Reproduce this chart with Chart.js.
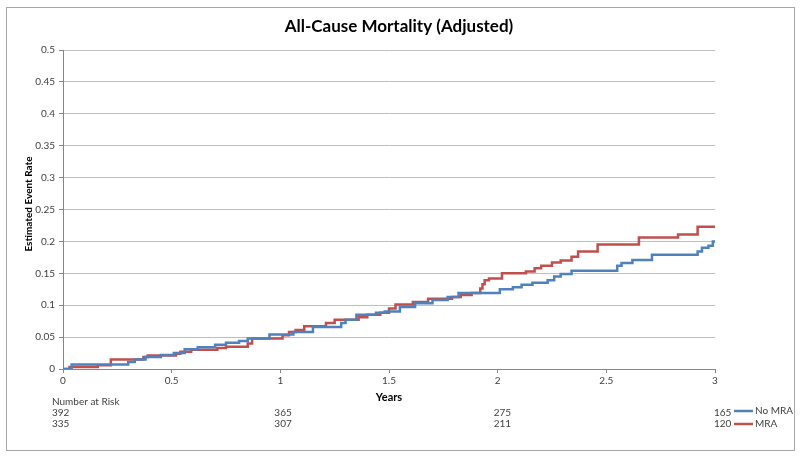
<!DOCTYPE html>
<html>
<head>
<meta charset="utf-8">
<title>All-Cause Mortality (Adjusted)</title>
<script src="https://cdn.jsdelivr.net/npm/chart.js@4"></script>
<style>
  body { margin: 0; background: #fff; }
  canvas { display: block; }
</style>
</head>
<body>
<canvas id="kmChart" width="800" height="459"></canvas>
<script>
// Dados (anos, taxa estimada)
const noMraTimes = [0, 0.04, 0.30, 0.33, 0.38, 0.45, 0.51, 0.56, 0.62, 0.70, 0.75, 0.81, 0.85, 0.95, 1.06, 1.15, 1.28, 1.30, 1.35, 1.44, 1.48, 1.55, 1.62, 1.70, 1.77, 1.82, 2.01, 2.07, 2.11, 2.16, 2.23, 2.26, 2.29, 2.34, 2.55, 2.57, 2.62, 2.71, 2.92, 2.94, 2.97, 2.99, 3.00];
const noMraRates = [0, 0.007, 0.011, 0.015, 0.019, 0.022, 0.025, 0.031, 0.034, 0.038, 0.041, 0.044, 0.048, 0.054, 0.058, 0.066, 0.072, 0.077, 0.085, 0.088, 0.090, 0.097, 0.103, 0.108, 0.113, 0.119, 0.125, 0.128, 0.132, 0.135, 0.139, 0.145, 0.149, 0.154, 0.162, 0.166, 0.171, 0.179, 0.184, 0.190, 0.193, 0.200, 0.200];

const mraTimes = [0, 0.03, 0.16, 0.22, 0.37, 0.39, 0.52, 0.54, 0.59, 0.71, 0.75, 0.85, 0.87, 1.01, 1.04, 1.07, 1.11, 1.21, 1.25, 1.36, 1.40, 1.46, 1.50, 1.53, 1.61, 1.68, 1.79, 1.83, 1.88, 1.92, 1.93, 1.94, 1.96, 2.02, 2.13, 2.17, 2.20, 2.25, 2.29, 2.34, 2.37, 2.46, 2.65, 2.83, 2.92, 3.00];
const mraRates = [0, 0.003, 0.006, 0.015, 0.019, 0.021, 0.024, 0.027, 0.030, 0.033, 0.035, 0.040, 0.048, 0.053, 0.058, 0.061, 0.067, 0.072, 0.077, 0.081, 0.085, 0.088, 0.095, 0.101, 0.105, 0.110, 0.113, 0.116, 0.119, 0.126, 0.133, 0.139, 0.142, 0.150, 0.153, 0.158, 0.162, 0.167, 0.170, 0.176, 0.184, 0.195, 0.206, 0.211, 0.223, 0.223];

// Número em risco
const riskYears = [0, 1, 2, 3];
const riskNoMra = [392, 365, 275, 165];
const riskMra = [335, 307, 211, 120];

const seriesNames = ['No MRA', 'MRA'];
const corAzul = '#4F81BD';
const corVermelha = '#C0504D';
const fonte = "Lato, 'Liberation Sans', sans-serif";

function pontos(xs, ys) {
    return xs.map((x, i) => ({ x: x, y: ys[i] }));
}

// Formata sem zeros extras (1.0 -> 1)
function fmt(v) {
    return String(Number(v.toFixed(2)));
}

// Plugin para título, moldura, tabela de risco e legenda
const extras = {
    id: 'extras',
    afterDraw(chart) {
        const ctx = chart.ctx;
        const xs = chart.scales.x;
        ctx.save();

        // moldura
        ctx.strokeStyle = '#A6A6A6';
        ctx.lineWidth = 1;
        ctx.strokeRect(6.5, 7.5, 788, 443);

        // título
        ctx.fillStyle = '#000';
        ctx.font = 'bold 17px ' + fonte;
        ctx.textAlign = 'center';
        ctx.textBaseline = 'middle';
        ctx.fillText('All-Cause Mortality (Adjusted)', 399, 27);

        // título eixo Y
        ctx.save();
        ctx.translate(29, 204);
        ctx.rotate(-Math.PI / 2);
        ctx.font = 'bold 10px ' + fonte;
        ctx.fillText('Estimated Event Rate', 0, 0);
        ctx.restore();

        // título eixo X
        ctx.font = 'bold 11px ' + fonte;
        ctx.fillText('Years', 389, 397);

        // número em risco
        ctx.font = '10px ' + fonte;
        ctx.fillStyle = '#404040';
        ctx.textAlign = 'left';
        ctx.fillText('Number at Risk', 52, 402);
        const offs = [-11, -6, -4, -1];
        riskYears.forEach((yr, i) => {
            const px = xs.getPixelForValue(yr) + offs[i];
            ctx.fillText(String(riskNoMra[i]), px, 413);
            ctx.fillText(String(riskMra[i]), px, 424);
        });

        // legenda
        const cores = [corAzul, corVermelha];
        [411, 424].forEach((ly, i) => {
            ctx.strokeStyle = cores[i];
            ctx.lineWidth = 2.5;
            ctx.beginPath();
            ctx.moveTo(734, ly);
            ctx.lineTo(753, ly);
            ctx.stroke();
            ctx.fillStyle = '#404040';
            ctx.fillText(seriesNames[i], 755, ly);
        });

        ctx.restore();
    }
};

const ctxKm = document.getElementById('kmChart').getContext('2d');
new Chart(ctxKm, {
    type: 'line',
    data: {
        datasets: [
            {
                label: seriesNames[0],
                data: pontos(noMraTimes, noMraRates),
                borderColor: corAzul,
                borderWidth: 2.5,
                stepped: 'before',
                pointRadius: 0,
                fill: false
            },
            {
                label: seriesNames[1],
                data: pontos(mraTimes, mraRates),
                borderColor: corVermelha,
                borderWidth: 2.5,
                stepped: 'before',
                pointRadius: 0,
                fill: false
            }
        ]
    },
    options: {
        responsive: false,
        animation: false,
        layout: { padding: { left: 0, right: 85, top: 50, bottom: 0 } },
        plugins: {
            legend: { display: false },
            title: { display: false },
            tooltip: { enabled: false }
        },
        scales: {
            x: {
                type: 'linear',
                min: 0,
                max: 3,
                ticks: {
                    stepSize: 0.5,
                    color: '#404040',
                    font: { family: fonte, size: 10 },
                    padding: 2,
                    maxRotation: 0,
                    callback: (v) => fmt(v)
                },
                grid: {
                    drawOnChartArea: false,
                    drawTicks: true,
                    tickLength: 4,
                    tickColor: '#868686'
                },
                border: { color: '#868686', width: 1 },
                afterFit(scale) { scale.height = 90; }
            },
            y: {
                min: 0,
                max: 0.5,
                ticks: {
                    stepSize: 0.05,
                    color: '#404040',
                    font: { family: fonte, size: 10 },
                    padding: 4,
                    callback: (v) => fmt(v)
                },
                grid: {
                    color: '#C0C0C0',
                    tickColor: '#868686',
                    tickLength: 4
                },
                border: { color: '#868686', width: 1 },
                afterFit(scale) { scale.width = 63; }
            }
        }
    },
    plugins: [extras]
});
</script>
</body>
</html>
